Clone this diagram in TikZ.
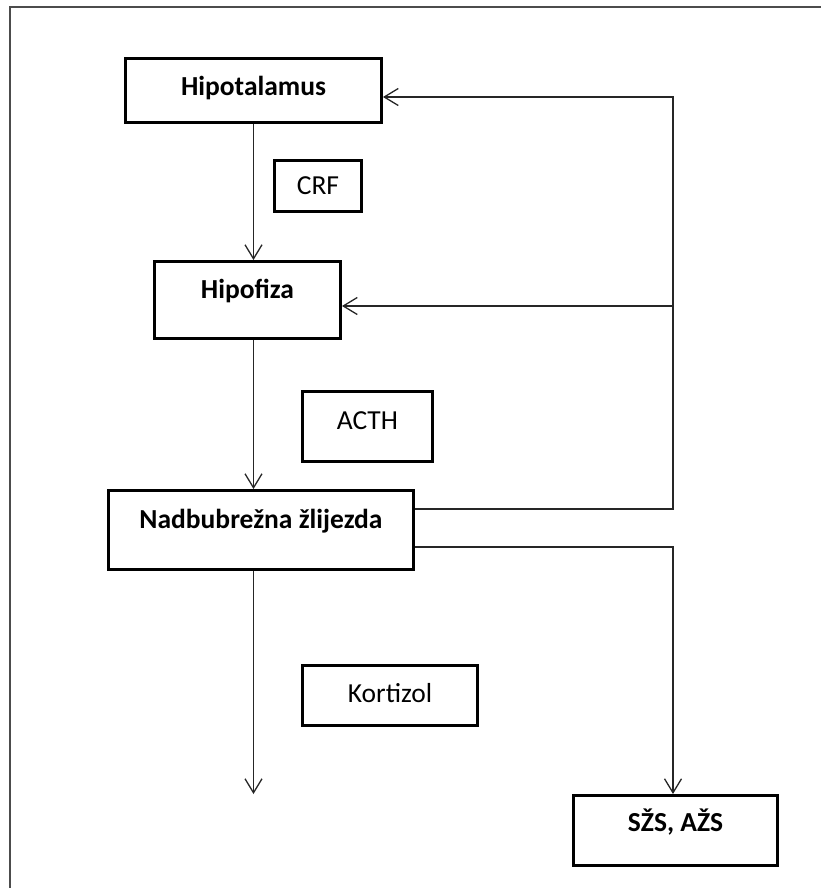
\documentclass[tikz,border=0pt]{standalone}
\usepackage{fontspec}
\setmainfont{Carlito}
\usetikzlibrary{arrows.meta}
\begin{document}
\begin{tikzpicture}[x=1pt, y=-1pt, >={Straight Barb[length=14pt,width=17pt]},
    organ/.style={draw=black, line width=3pt, inner sep=0pt, font=\fontsize{27.5}{33}\selectfont\bfseries, text height=17pt, text depth=#1},
    organ/.default=0pt,
    hormon/.style={draw=black, line width=3pt, inner sep=0pt, font=\fontsize{27.5}{33}\selectfont, text height=17pt, text depth=#1},
    hormon/.default=0pt,
    veza/.style={line width=1.3pt, draw=black!85}]
    \useasboundingbox (0,0) rectangle (821,888);
    \clip (0,0) rectangle (821,888);
    \draw[line width=2pt, black!70] (10,900) -- (10,7) -- (830,7);

    \node[organ=7pt, minimum width=256, minimum height=64] (hipotalamus) at (253.5,90.5) {Hipotalamus};
    \node[hormon, minimum width=87, minimum height=51] (crf) at (318,186) {CRF};
    \node[organ=20pt, minimum width=186, minimum height=77] (hipofiza) at (247.5,300) {Hipofiza};
    \node[hormon=12pt, minimum width=130, minimum height=70] (acth) at (367.5,426.5) {ACTH};
    \node[organ=20pt, minimum width=305, minimum height=79] (nadbubrezna) at (261,530) {Nadbubrežna žlijezda};
    \node[hormon=3pt, minimum width=175, minimum height=60] (kortizol) at (390,695.5) {Kortizol};
    \node[organ=15pt, minimum width=204, minimum height=70] (szs) at (675.5,830.5) {SŽS, AŽS};

    \coordinate (desno) at (673,97);
    \coordinate (hipofiza ulaz) at ([yshift=-6pt]hipofiza.east);
    \coordinate (kortizol kraj) at (253.5,794);

    \draw[veza, ->] (hipotalamus.south) -- (hipofiza.north -| hipotalamus.south);
    \draw[veza, ->] (hipofiza.south -| hipotalamus.south) -- (nadbubrezna.north -| hipotalamus.south);
    \draw[veza, ->] (nadbubrezna.south -| hipotalamus.south) -- (kortizol kraj);
    \draw[veza, ->] ([yshift=21pt]nadbubrezna.east) -| (desno) -- ([yshift=-6.5pt]hipotalamus.east);
    \draw[veza, ->] (desno |- hipofiza ulaz) -- (hipofiza ulaz);
    \draw[veza, ->] ([yshift=-17pt]nadbubrezna.east) -| (szs.north -| desno);
\end{tikzpicture}
\end{document}
